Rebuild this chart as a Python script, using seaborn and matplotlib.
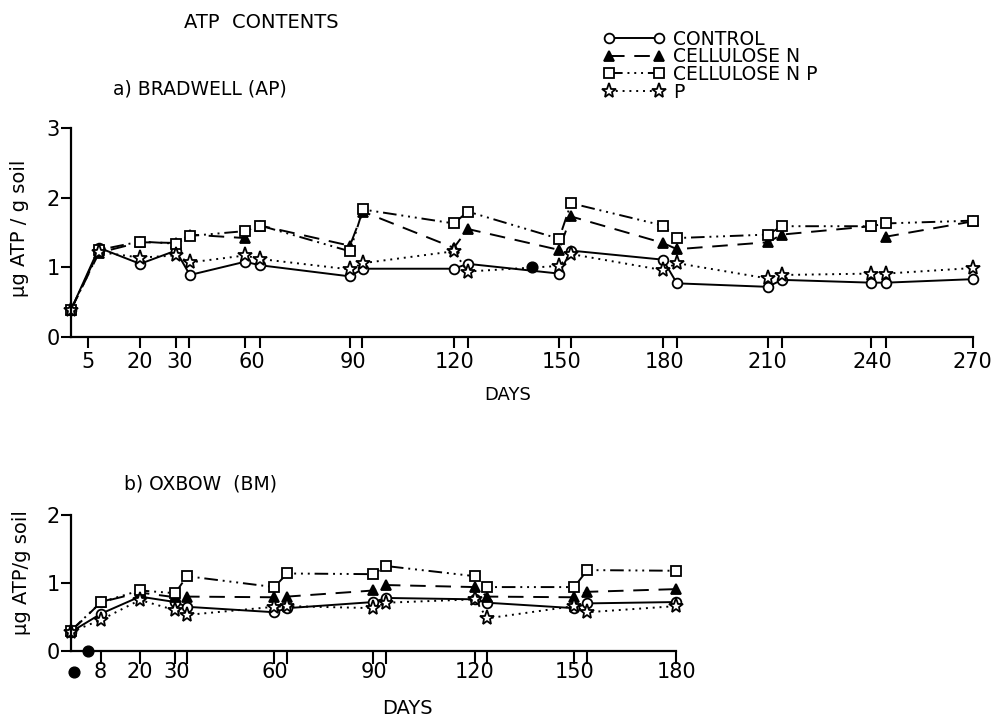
import pandas as pd
import seaborn as sns
import matplotlib.pyplot as plt

# ---- data: a) Bradwell (AP) ----
# day positions as drawn on the (hand lettered) axis
days_a = [0, 8.4, 20.7, 31.4, 35.6, 52.1, 56.6, 83.5, 87.4, 114.6, 118.8,
          146.1, 149.7, 177.2, 181.4, 208.6, 212.8, 239.5, 244.0, 270]
control_a = [0.39, 1.28, 1.05, 1.24, 0.89, 1.08, 1.03, 0.87, 0.98, 0.98, 1.05,
             0.91, 1.24, 1.11, 0.77, 0.72, 0.82, 0.78, 0.78, 0.83]
cell_n_a = [0.39, 1.21, 1.36, 1.35, 1.47, 1.42, 1.60, 1.31, 1.80, 1.28, 1.55,
            1.25, 1.73, 1.35, 1.26, 1.36, 1.47, 1.59, 1.44, 1.66]
cell_np_a = [0.39, 1.25, 1.37, 1.34, 1.45, 1.52, 1.60, 1.23, 1.83, 1.63, 1.80,
             1.41, 1.92, 1.60, 1.42, 1.47, 1.59, 1.59, 1.63, 1.67]
p_a = [0.39, 1.22, 1.14, 1.17, 1.07, 1.17, 1.12, 0.97, 1.06, 1.23, 0.94,
       1.02, 1.19, 0.96, 1.06, 0.84, 0.89, 0.91, 0.91, 0.99]
ticks_a = [5.1, 20.7, 31.4, 35.3, 52.1, 56.6, 83.5, 87.1, 114.6, 118.8,
           146.1, 149.7, 177.2, 181.4, 208.6, 212.8, 239.5, 244.0, 270]
label_pos_a = [5.1, 20.7, 32.6, 54.2, 84.4, 114.9, 147.0, 177.8, 208.6, 239.8, 269.7]
label_txt_a = ["5", "20", "30", "60", "90", "120", "150", "180", "210", "240", "270"]
dot_a_x = [138.0]
dot_a_y = [1.0]

# ---- data: b) Oxbow (BM) ----
days_b = [0, 9, 20.5, 31, 34.5, 60.5, 64.3, 90, 93.7, 120.2, 123.8, 149.7, 153.6, 180]
control_b = [0.28, 0.55, 0.80, 0.72, 0.65, 0.57, 0.63, 0.72, 0.78, 0.76, 0.71, 0.63, 0.70, 0.72]
cell_n_b = [0.29, 0.72, 0.86, 0.79, 0.80, 0.79, 0.80, 0.89, 0.97, 0.94, 0.80, 0.79, 0.87, 0.91]
cell_np_b = [0.30, 0.72, 0.89, 0.85, 1.10, 0.94, 1.14, 1.13, 1.25, 1.10, 0.94, 0.94, 1.19, 1.18]
p_b = [0.28, 0.46, 0.75, 0.60, 0.53, 0.65, 0.66, 0.63, 0.71, 0.76, 0.48, 0.66, 0.57, 0.66]
label_pos_b = [8.6, 20.5, 31.5, 60.5, 90, 120.2, 149.7, 180]
label_txt_b = ["8", "20", "30", "60", "90", "120", "150", "180"]
dot_b_x = [1.0, 5.1]
dot_b_y = [-0.31, 0.0]

names = ["CONTROL", "CELLULOSE N", "CELLULOSE N P", "P"]
styles = {
    "CONTROL": dict(marker="o", markersize=7, markerfacecolor="white", linestyle="-"),
    "CELLULOSE N": dict(marker="^", markersize=7, markerfacecolor="black", linestyle=(0, (8, 5))),
    "CELLULOSE N P": dict(marker="s", markersize=6.5, markerfacecolor="white",
                          linestyle=(0, (7, 2.5, 1, 2.5, 1, 2.5, 1, 2.5))),
    "P": dict(marker="*", markersize=11, markerfacecolor="white", linestyle=(0, (1, 2.5))),
}


def long_table(days, series):
    rows = []
    for name, vals in zip(names, series):
        for d, v in zip(days, vals):
            rows.append({"day": d, "atp": v, "treatment": name})
    return pd.DataFrame(rows)


df_a = long_table(days_a, [control_a, cell_n_a, cell_np_a, p_a])
df_b = long_table(days_b, [control_b, cell_n_b, cell_np_b, p_b])

sns.set_style("ticks")
plt.rcParams["font.family"] = ["DejaVu Sans"]
for key in ["text.color", "axes.labelcolor", "xtick.color", "ytick.color", "axes.edgecolor"]:
    plt.rcParams[key] = "black"

fig = plt.figure(figsize=(9.94, 7.19), dpi=100)
ax_a = fig.add_axes([0.0714, 0.5313, 0.9074, 0.2907])
ax_b = fig.add_axes([0.0714, 0.0946, 0.6087, 0.1891])


def draw(ax, df):
    for name in names:
        sub = df[df["treatment"] == name]
        sns.lineplot(data=sub, x="day", y="atp", ax=ax, color="black", lw=1.4,
                     markeredgecolor="black", markeredgewidth=1.3, clip_on=False,
                     legend=False, label=name, errorbar=None, **styles[name])
    for s in ["top", "right"]:
        ax.spines[s].set_visible(False)
    for s in ["left", "bottom"]:
        ax.spines[s].set_linewidth(1.6)
    ax.set_xlabel("")
    ax.set_ylabel("")
    ax.xaxis.remove_overlapping_locs = False
    ax.tick_params(axis="both", which="major", direction="out", width=1.5,
                   labelsize=15, length=7, pad=1)
    ax.tick_params(axis="x", which="minor", length=0, labelsize=15)


draw(ax_a, df_a)
ax_a.scatter(dot_a_x, dot_a_y, s=60, color="black", zorder=5)
ax_a.set_xlim(0, 270)
ax_a.set_ylim(0, 3)
ax_a.set_yticks([0, 1, 2, 3])
ax_a.set_xticks(ticks_a, labels=[""] * len(ticks_a))
ax_a.set_xticks(label_pos_a, labels=label_txt_a, minor=True)
ax_a.tick_params(axis="x", which="major", length=8)
ax_a.tick_params(axis="x", which="minor", pad=11)

draw(ax_b, df_b)
ax_b.scatter(dot_b_x, dot_b_y, s=60, color="black", zorder=5, clip_on=False)
ax_b.set_xlim(0, 180)
ax_b.set_ylim(0, 2)
ax_b.set_yticks([0, 1, 2])
ax_b.set_xticks(days_b[1:], labels=[""] * (len(days_b) - 1))
ax_b.set_xticks(label_pos_b, labels=label_txt_b, minor=True)
ax_b.tick_params(axis="x", which="major", length=9)
ax_b.tick_params(axis="x", which="minor", pad=8)

# titles and axis texts
fig.text(261 / 994, 1 - 22 / 719, "ATP  CONTENTS", fontsize=14, ha="center", va="center")
fig.text(200 / 994, 1 - 89 / 719, "a) BRADWELL (AP)", fontsize=13.5, ha="center", va="center")
fig.text(201 / 994, 1 - 484 / 719, "b) OXBOW  (BM)", fontsize=13.5, ha="center", va="center")
fig.text(508 / 994, 1 - 395 / 719, "DAYS", fontsize=13, ha="center", va="center")
fig.text(407 / 994, 1 - 708 / 719, "DAYS", fontsize=14, ha="center", va="center")
fig.text(20 / 994, 1 - 228 / 719, "\u03bcg ATP / g soil", fontsize=14, rotation=90,
         ha="center", va="center")
fig.text(22 / 994, 1 - 573 / 719, "\u03bcg ATP/g soil", fontsize=14, rotation=90,
         ha="center", va="center")

# legend, markers at both ends of each sample line
handles, labels = ax_a.get_legend_handles_labels()
fig.legend(handles[:4], labels[:4], loc="upper left",
           bbox_to_anchor=(603 / 994, 1 - 30 / 719), frameon=False, fontsize=13.5,
           numpoints=2, handlelength=3.3, handletextpad=0.45, labelspacing=-0.08,
           borderpad=0, borderaxespad=0)

fig.savefig("out.png", dpi=100)
